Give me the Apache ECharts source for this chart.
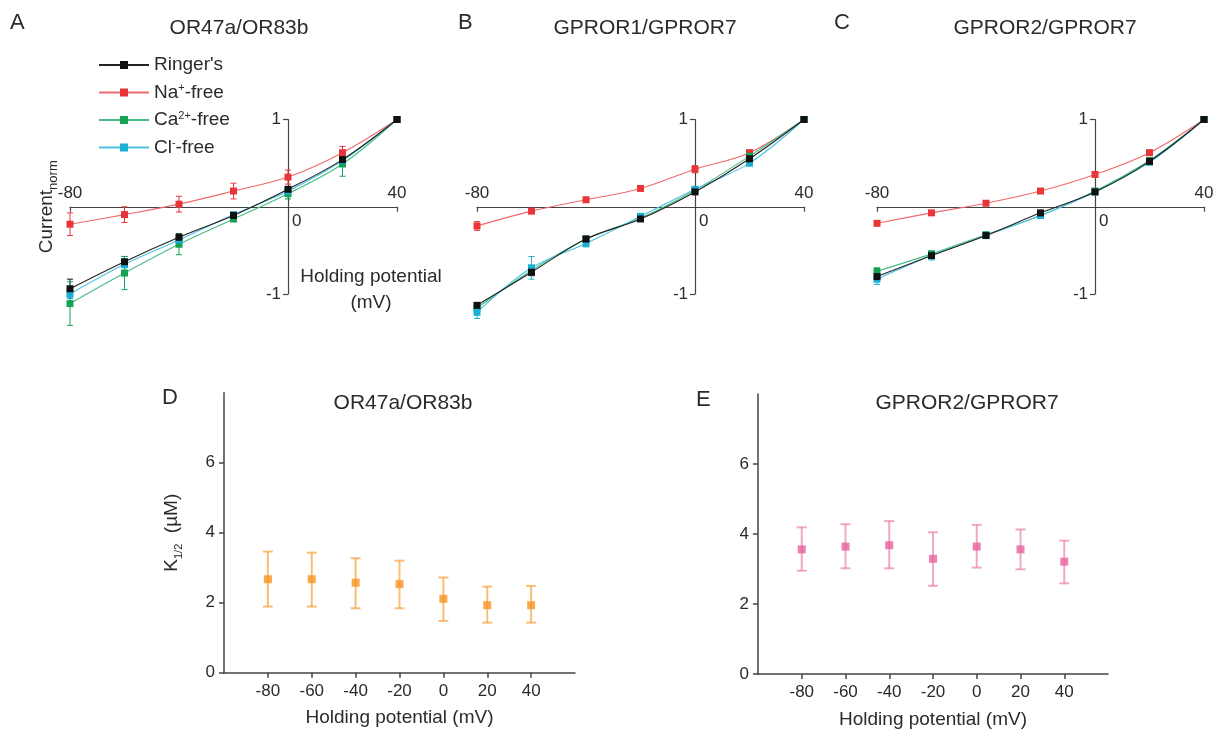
<!DOCTYPE html>
<html><head><meta charset="utf-8">
<script src="https://cdn.jsdelivr.net/npm/echarts@6/dist/echarts.min.js"></script>
<style>html,body{margin:0;padding:0;background:#fff}#c{width:1225px;height:730px}</style>
</head><body><div id="c"></div>
<script>
// ---------- data ----------
const potentials = [-80, -60, -40, -20, 0, 20, 40];
const seriesNames = ["Ringer's", "Na+-free", "Ca2+-free", "Cl--free"];
const ivXTicks = [-80, 40];
const ivZeroTick = [0];
const ivYTicks = [-1, 1];
const kXTicks = [-80, -60, -40, -20, 0, 20, 40];
const kYTicks = [0, 2, 4, 6];

// Panel A  OR47a/OR83b
const A_ringer = [-0.94, -0.63, -0.35, -0.10, 0.20, 0.54, 1.00];
const A_ringerErr = [0.11, 0.06, 0.04, 0.02, 0.03, 0.04, 0];
const A_na = [-0.20, -0.09, 0.03, 0.18, 0.34, 0.62, 1.00];
const A_naErr = [0.13, 0.09, 0.09, 0.09, 0.08, 0.07, 0];
const A_ca = [-1.11, -0.76, -0.43, -0.14, 0.15, 0.49, 1.00];
const A_caErr = [0.25, 0.19, 0.12, 0.03, 0.06, 0.14, 0];
const A_cl = [-1.00, -0.66, -0.38, -0.09, 0.18, 0.53, 1.00];
const A_clErr = [0.05, 0.04, 0.03, 0.02, 0.03, 0.03, 0];

// Panel B  GPROR1/GPROR7
const B_ringer = [-1.13, -0.75, -0.37, -0.14, 0.17, 0.55, 1.00];
const B_ringerErr = [0.03, 0.04, 0.03, 0.02, 0.02, 0.03, 0];
const B_na = [-0.22, -0.05, 0.08, 0.21, 0.43, 0.62, 1.00];
const B_naErr = [0.05, 0.02, 0.02, 0.02, 0.04, 0.02, 0];
const B_ca = [-1.16, -0.73, -0.37, -0.13, 0.19, 0.58, 1.00];
const B_caErr = [0.04, 0.03, 0.03, 0.02, 0.02, 0.03, 0];
const B_cl = [-1.21, -0.70, -0.42, -0.11, 0.20, 0.50, 1.00];
const B_clErr = [0.07, 0.13, 0.04, 0.03, 0.03, 0.03, 0];

// Panel C  GPROR2/GPROR7
const C_ringer = [-0.80, -0.56, -0.33, -0.07, 0.17, 0.52, 1.00];
const C_ringerErr = [0.03, 0.03, 0.02, 0.02, 0.02, 0.02, 0];
const C_na = [-0.19, -0.07, 0.04, 0.18, 0.37, 0.62, 1.00];
const C_naErr = [0.02, 0.02, 0.02, 0.02, 0.02, 0.02, 0];
const C_ca = [-0.74, -0.54, -0.32, -0.10, 0.18, 0.53, 1.00];
const C_caErr = [0.04, 0.03, 0.02, 0.02, 0.02, 0.02, 0];
const C_cl = [-0.83, -0.56, -0.33, -0.10, 0.17, 0.51, 1.00];
const C_clErr = [0.06, 0.05, 0.03, 0.02, 0.02, 0.02, 0];

// Panel D  K1/2 OR47a/OR83b
const D_k = [2.67, 2.67, 2.57, 2.53, 2.11, 1.93, 1.93];
const D_hi = [3.46, 3.43, 3.27, 3.20, 2.72, 2.46, 2.48];
const D_lo = [1.89, 1.89, 1.84, 1.84, 1.48, 1.43, 1.43];
// Panel E  K1/2 GPROR2/GPROR7
const E_k = [3.56, 3.64, 3.68, 3.29, 3.64, 3.56, 3.21];
const E_hi = [4.19, 4.28, 4.37, 4.05, 4.26, 4.13, 3.81];
const E_lo = [2.95, 3.02, 3.02, 2.52, 3.04, 2.99, 2.59];

// ---------- styles ----------
const FONT = "'Liberation Sans', Arial, Helvetica, sans-serif";
const TXT = '#2b2b2b';
const AX = '#444';
const markColors = ['#111111', '#e8353a', '#16a255', '#19b0d3'];
const lineColors = ['#222222', '#ef6a6c', '#45bd85', '#4cc3e2'];

function errRender(capHalf, lw, color) {
  return function (params, api) {
    const x = api.value(0), lo = api.value(1), hi = api.value(2);
    if (hi - lo <= 0) return { type: 'group', children: [] };
    const a = api.coord([x, hi]), b = api.coord([x, lo]);
    const st = { stroke: color, lineWidth: lw };
    return { type: 'group', children: [
      { type: 'line', shape: { x1: a[0], y1: a[1], x2: b[0], y2: b[1] }, style: st },
      { type: 'line', shape: { x1: a[0] - capHalf, y1: a[1], x2: a[0] + capHalf, y2: a[1] }, style: st },
      { type: 'line', shape: { x1: b[0] - capHalf, y1: b[1], x2: b[0] + capHalf, y2: b[1] }, style: st }
    ]};
  };
}
function errData(vals, errs) { return potentials.map((p, i) => [p, vals[i] - errs[i], vals[i] + errs[i]]); }
function errDataHL(lo, hi) { return potentials.map((p, i) => [p, lo[i], hi[i]]); }
function xy(vals) { return potentials.map((p, i) => [p, vals[i]]); }

const IV_X = [-80, 40], IV_Y = [-1, 1];
const IV_TOP = 119.5, IV_H = 174.5, IV_W = 327;
const panels = [
  { vals: [A_ringer, A_na, A_ca, A_cl], errs: [A_ringerErr, A_naErr, A_caErr, A_clErr], left: 70 },
  { vals: [B_ringer, B_na, B_ca, B_cl], errs: [B_ringerErr, B_naErr, B_caErr, B_clErr], left: 477 },
  { vals: [C_ringer, C_na, C_ca, C_cl], errs: [C_ringerErr, C_naErr, C_caErr, C_clErr], left: 877 }
];
// place the axis lines where the other axis is zero
const xLineOffset = -IV_H * (0 - IV_Y[0]) / (IV_Y[1] - IV_Y[0]);
const yLineOffset = -IV_W * (0 - IV_X[0]) / (IV_X[1] - IV_X[0]);

const grid = [], xAxis = [], yAxis = [], series = [];
const tickLabelStyle = { fontFamily: FONT, fontSize: 17, color: TXT };

panels.forEach((pn, i) => {
  grid.push({ left: pn.left, width: IV_W, top: IV_TOP, height: IV_H, outerBoundsMode: 'none', containLabel: false });
  xAxis.push({
    type: 'value', gridIndex: i, min: IV_X[0], max: IV_X[1], position: 'bottom', offset: xLineOffset,
    axisLine: { onZero: false, lineStyle: { color: AX, width: 1.2 } },
    axisTick: { show: true, length: 5, customValues: ivXTicks, lineStyle: { color: AX, width: 1.2 } },
    axisLabel: Object.assign({ inside: true, margin: 5, customValues: ivXTicks }, tickLabelStyle),
    splitLine: { show: false }
  });
  xAxis.push({
    type: 'value', gridIndex: i, min: IV_X[0], max: IV_X[1], position: 'bottom', offset: xLineOffset,
    axisLine: { show: false, onZero: false },
    axisTick: { show: false },
    axisLabel: Object.assign({ margin: 6, align: 'left', padding: [0, 0, 0, 4], customValues: ivZeroTick }, tickLabelStyle),
    splitLine: { show: false }
  });
  const ya = {
    type: 'value', gridIndex: i, min: IV_Y[0], max: IV_Y[1], position: 'left', offset: yLineOffset,
    axisLine: { onZero: false, lineStyle: { color: AX, width: 1.2 } },
    axisTick: { show: true, length: 5, customValues: ivYTicks, lineStyle: { color: AX, width: 1.2 } },
    axisLabel: Object.assign({ margin: 7, customValues: ivYTicks }, tickLabelStyle),
    splitLine: { show: false }
  };
  if (i === 0) {
    ya.name = 'Current{sub|norm}';
    ya.nameLocation = 'middle';
    ya.nameRotate = 90;
    ya.nameGap = 228;
    ya.nameTextStyle = { fontFamily: FONT, fontSize: 19, color: TXT, lineHeight: 26,
      rich: { sub: { fontFamily: FONT, fontSize: 13, color: TXT, verticalAlign: 'bottom', lineHeight: 13 } } };
  }
  yAxis.push(ya);
  for (let s = 0; s < 4; s++) {
    series.push({
      type: 'custom', xAxisIndex: 2 * i, yAxisIndex: i, z: 2, clip: false, silent: true,
      renderItem: errRender(3, 1, markColors[s]),
      encode: { x: 0, y: [1, 2] },
      data: errData(pn.vals[s], pn.errs[s])
    });
  }
  for (let s = 0; s < 4; s++) {
    series.push({
      type: 'line', name: seriesNames[s], xAxisIndex: 2 * i, yAxisIndex: i, z: 3 + (s === 0 ? 1 : 0),
      data: xy(pn.vals[s]), smooth: 0.35, clip: false,
      symbol: 'rect', symbolSize: 7, showSymbol: true,
      itemStyle: { color: markColors[s] },
      lineStyle: { color: lineColors[s], width: 1.1 },
      emphasis: { disabled: true }
    });
  }
});

// Panels D and E
const kPanels = [
  { k: D_k, lo: D_lo, hi: D_hi, left: 224, right: 650, top: 392.7, bottom: 57.3, mark: '#f7931e', err: 'rgba(247,147,30,0.6)', name: true },
  { k: E_k, lo: E_lo, hi: E_hi, left: 758, right: 117, top: 394, bottom: 56, mark: '#e6609d', err: 'rgba(230,96,157,0.55)', name: false }
];
kPanels.forEach((kp, j) => {
  const gi = 3 + j;
  grid.push({ left: kp.left, right: kp.right, top: kp.top, bottom: kp.bottom, outerBoundsMode: 'none', containLabel: false });
  xAxis.push({
    type: 'value', gridIndex: gi, min: -100, max: 60,
    name: 'Holding potential (mV)', nameLocation: 'middle', nameGap: 36,
    nameTextStyle: { fontFamily: FONT, fontSize: 19, color: TXT },
    axisLine: { onZero: false, lineStyle: { color: AX, width: 1.5 } },
    axisTick: { show: true, length: 5, customValues: kXTicks, lineStyle: { color: AX, width: 1.5 } },
    axisLabel: Object.assign({ margin: 10, customValues: kXTicks }, tickLabelStyle),
    splitLine: { show: false }
  });
  const ya = {
    type: 'value', gridIndex: gi, min: 0, max: 8,
    axisLine: { onZero: false, lineStyle: { color: AX, width: 1.5 } },
    axisTick: { show: true, length: 5, customValues: kYTicks, lineStyle: { color: AX, width: 1.5 } },
    axisLabel: Object.assign({ margin: 9, customValues: kYTicks }, tickLabelStyle),
    splitLine: { show: false }
  };
  if (kp.name) {
    ya.name = 'K{sub|1/2}  (µM)';
    ya.nameLocation = 'middle';
    ya.nameRotate = 90;
    ya.nameGap = 40;
    ya.nameTextStyle = { fontFamily: FONT, fontSize: 19, color: TXT, lineHeight: 24,
      rich: { sub: { fontFamily: FONT, fontSize: 11, color: TXT, verticalAlign: 'bottom', lineHeight: 11 } } };
  }
  yAxis.push(ya);
  const xi = 6 + j, yi = 3 + j;
  series.push({
    type: 'custom', xAxisIndex: xi, yAxisIndex: yi, z: 2, silent: true,
    renderItem: errRender(5, 2, kp.err),
    encode: { x: 0, y: [1, 2] },
    data: errDataHL(kp.lo, kp.hi)
  });
  series.push({
    type: 'scatter', xAxisIndex: xi, yAxisIndex: yi, z: 3,
    data: xy(kp.k), symbol: 'rect', symbolSize: 8,
    itemStyle: { color: kp.mark }, emphasis: { disabled: true }
  });
});

const letterStyle = { fontFamily: FONT, fontSize: 22, fontWeight: 'normal', color: TXT };
const titleStyle = { fontFamily: FONT, fontSize: 21, fontWeight: 'normal', color: TXT };
const title = [
  { text: 'A', left: 5, top: 7, textStyle: letterStyle },
  { text: 'B', left: 453, top: 7, textStyle: letterStyle },
  { text: 'C', left: 829, top: 7, textStyle: letterStyle },
  { text: 'D', left: 157, top: 382, textStyle: letterStyle },
  { text: 'E', left: 691, top: 384, textStyle: letterStyle },
  { text: 'OR47a/OR83b', left: 234, top: 13, textAlign: 'center', textStyle: titleStyle },
  { text: 'GPROR1/GPROR7', left: 640, top: 13, textAlign: 'center', textStyle: titleStyle },
  { text: 'GPROR2/GPROR7', left: 1040, top: 13, textAlign: 'center', textStyle: titleStyle },
  { text: 'OR47a/OR83b', left: 398, top: 388, textAlign: 'center', textStyle: titleStyle },
  { text: 'GPROR2/GPROR7', left: 962, top: 388, textAlign: 'center', textStyle: titleStyle },
  { text: 'Holding potential\n(mV)', left: 366, top: 259, textAlign: 'center',
    textStyle: { fontFamily: FONT, fontSize: 19, fontWeight: 'normal', color: TXT, lineHeight: 26 } }
];

const legendLabels = { "Ringer's": "Ringer's", "Na+-free": 'Na{sup|+}-free', "Ca2+-free": 'Ca{sup|2+}-free', "Cl--free": 'Cl{sup|-}-free' };

const option = {
  animation: false,
  backgroundColor: '#fff',
  title, grid, xAxis, yAxis, series,
  legend: {
    data: seriesNames, orient: 'vertical', left: 93, top: 50,
    itemWidth: 50, itemHeight: 10, itemGap: 7.5,
    formatter: n => legendLabels[n],
    textStyle: { fontFamily: FONT, fontSize: 19, color: TXT, lineHeight: 20,
      rich: { sup: { fontFamily: FONT, fontSize: 11, color: TXT, verticalAlign: 'top', lineHeight: 10 } } },
    selectedMode: false
  }
};
const chart = echarts.init(document.getElementById('c'), null, { renderer: 'canvas' });
chart.setOption(option);
</script></body></html>
